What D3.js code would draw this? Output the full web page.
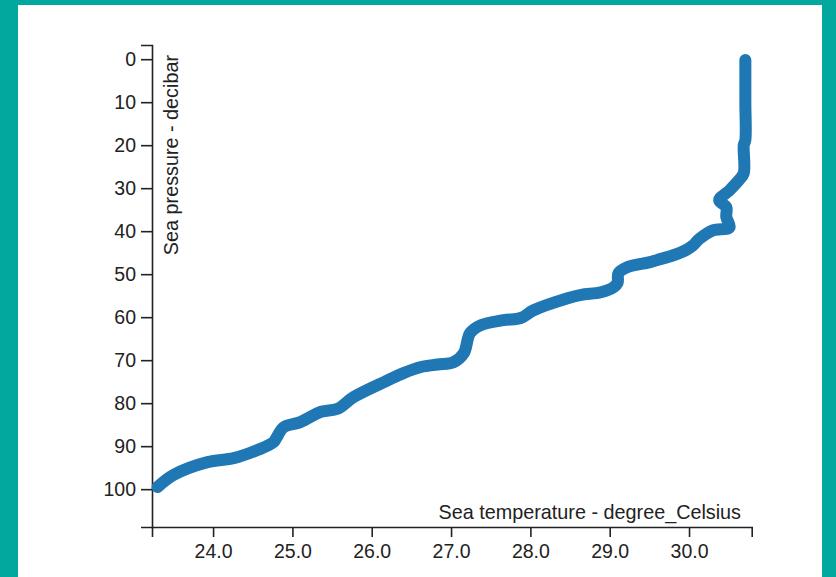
<!DOCTYPE html>
<html>
<head>
<meta charset="utf-8">
<script src="https://cdn.jsdelivr.net/npm/d3@7"></script>
<style>
  body { margin: 0; background: #02a89e; }
  #frame { position: absolute; left: 18px; top: 5px; width: 804px; height: 572px; background: #fff; }
  .axis text { font-family: "Liberation Sans", Arial, sans-serif; font-size: 19.5px; fill: #222; }
  .axis path, .axis line { stroke: #222; stroke-width: 1.6; }
  .label { font-family: "Liberation Sans", Arial, sans-serif; font-size: 19.8px; fill: #222; }
</style>
</head>
<body>
<div id="frame"></div>
<div id="profile"></div>
<script>
// profile readings, surface to bottom
const pressure = [0.2, 10, 18.8, 20, 26.5, 28.1, 30.5, 32.8, 34.4, 36.7, 39.1, 39.8, 41.8, 43.3, 44.4,
  45.6, 46.7, 47.2, 48.4, 49.8, 52.0, 53.0, 54.2, 54.8, 55.6, 58.4, 60.2, 60.7, 61.9, 63.7,
  68.4, 70.5, 71.0, 71.6, 73.0, 74.7, 78.6, 81.3, 82.0, 84.4, 85.6, 88.0, 89.1, 90.9, 92.8,
  93.7, 96.7, 99.5];
const temperature = [30.71, 30.71, 30.71, 30.69, 30.69, 30.63, 30.51, 30.38, 30.47, 30.47, 30.51, 30.30, 30.13, 30.05, 29.96,
  29.80, 29.60, 29.51, 29.22, 29.11, 29.10, 29.05, 28.89, 28.64, 28.47, 28.04, 27.88, 27.66, 27.37, 27.24,
  27.16, 27.03, 26.83, 26.62, 26.40, 26.20, 25.77, 25.57, 25.36, 25.10, 24.89, 24.80, 24.76, 24.56, 24.26,
  23.93, 23.50, 23.30];
const xTicks = [24, 25, 26, 27, 28, 29, 30];
const yTicks = [0, 10, 20, 30, 40, 50, 60, 70, 80, 90, 100];
const xTitle = "Sea temperature - degree_Celsius";
const yTitle = "Sea pressure - decibar";

const width = 836, height = 577;
const svg = d3.select("#profile")
  .append("svg")
    .attr("width", width)
    .attr("height", height)
    .style("position", "absolute")
    .style("left", 0)
    .style("top", 0);

const x = d3.scaleLinear()
    .domain([23.23, 30.79])
    .range([152, 751.7]);

const y = d3.scaleLinear()
    .domain([-3.3, 108.8])
    .range([45, 527]);

// axes
svg.append("g")
    .attr("class", "axis")
    .attr("transform", "translate(0,527)")
    .call(d3.axisBottom(x).tickValues(xTicks).tickFormat(d3.format(".1f")).tickSize(10).tickPadding(7));

svg.append("g")
    .attr("class", "axis")
    .attr("transform", "translate(152,0)")
    .call(d3.axisLeft(y).tickValues(yTicks).tickSize(11).tickPadding(5));

// profile line
const points = pressure.map((p, i) => [temperature[i], p]);
const line = d3.line()
    .x(d => x(d[0]))
    .y(d => y(d[1]))
    .curve(d3.curveCatmullRom.alpha(0.5));

svg.append("path")
    .datum(points)
    .attr("fill", "none")
    .attr("stroke", "#1f77b4")
    .attr("stroke-width", 12)
    .attr("stroke-linecap", "round")
    .attr("stroke-linejoin", "round")
    .attr("d", line);

// axis titles
svg.append("text")
    .attr("class", "label")
    .attr("transform", "rotate(-90)")
    .attr("x", -55)
    .attr("y", 178)
    .attr("text-anchor", "end")
    .text(yTitle);

svg.append("text")
    .attr("class", "label")
    .attr("x", 741)
    .attr("y", 519)
    .attr("text-anchor", "end")
    .text(xTitle);
</script>
</body>
</html>
